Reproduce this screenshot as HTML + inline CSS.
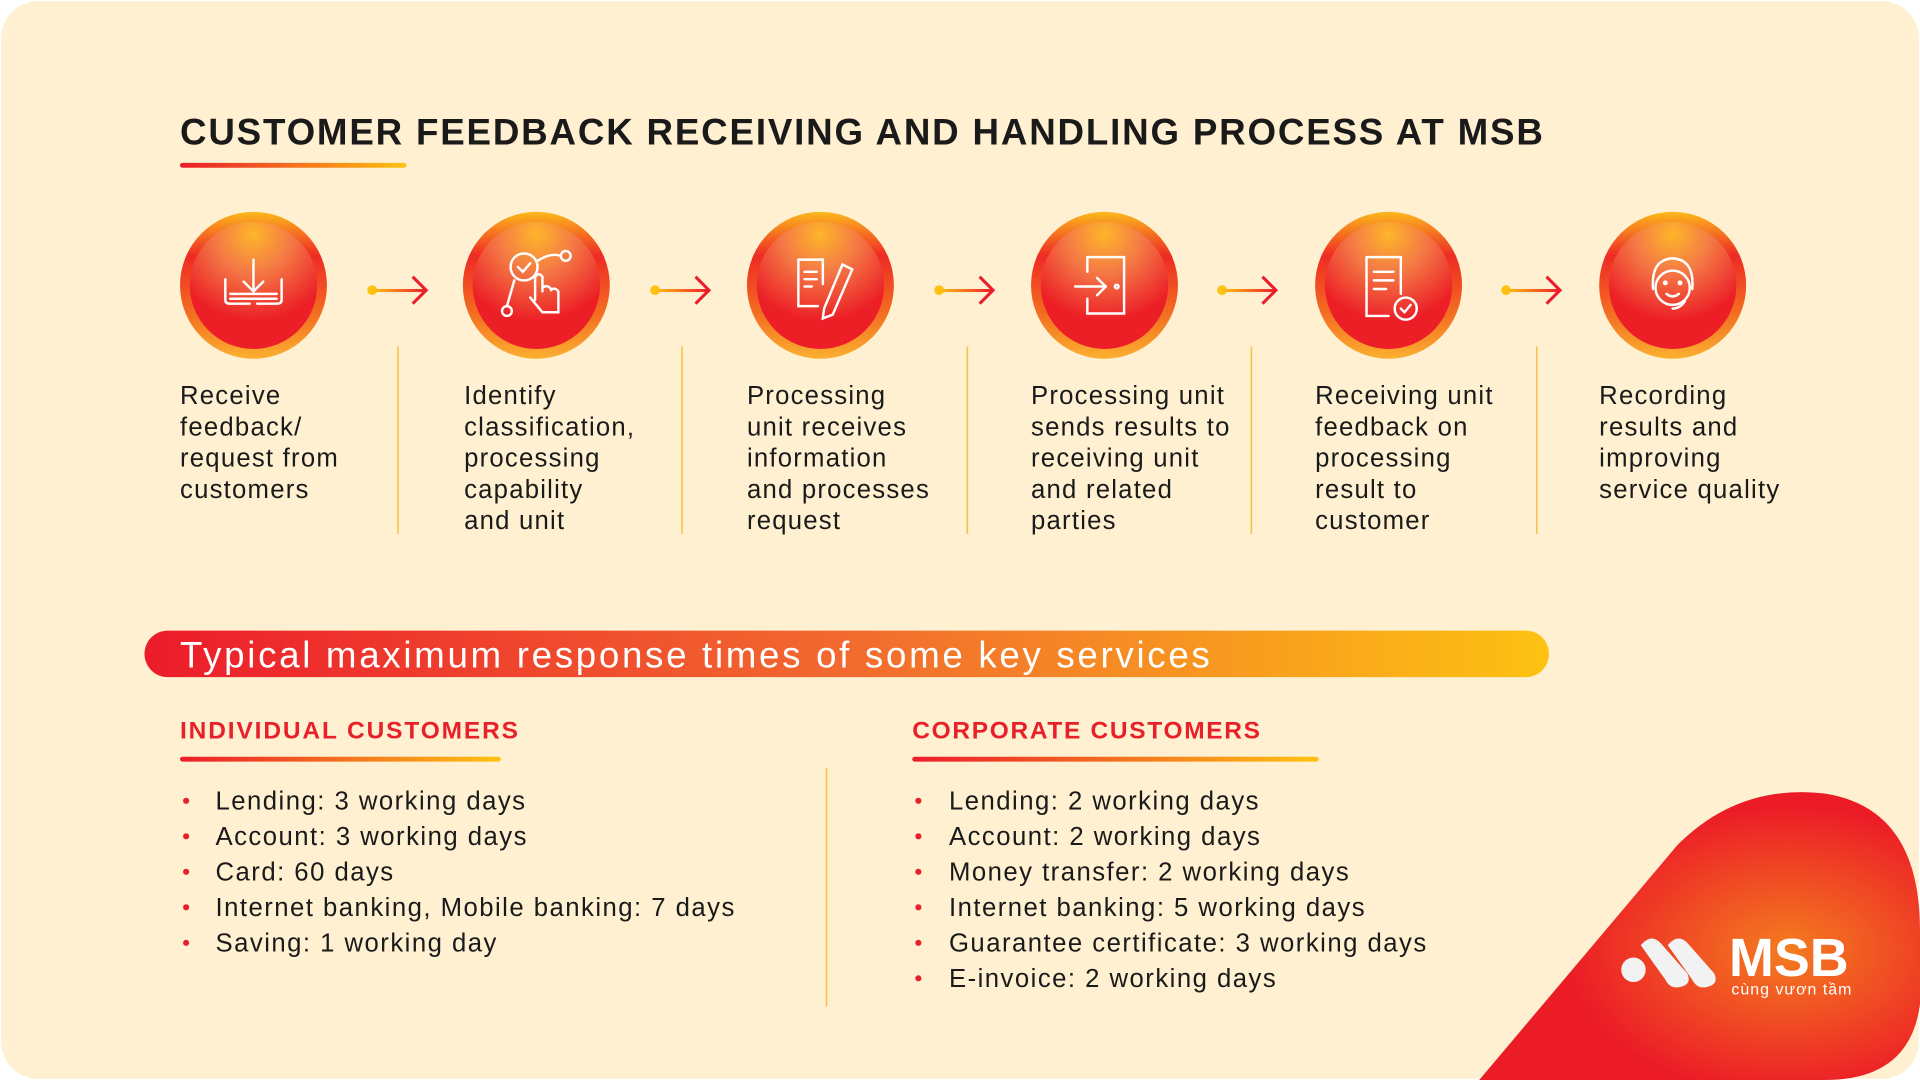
<!DOCTYPE html>
<html><head><meta charset="utf-8"><style>html,body{margin:0;padding:0;background:#fff;overflow:hidden}svg{display:block}text{font-family:"Liberation Sans",sans-serif}</style></head><body>
<svg width="1920" height="1080" viewBox="0 0 1568 882" xmlns="http://www.w3.org/2000/svg">
<defs>
<radialGradient id="cg" cx="50%" cy="10%" r="85%"><stop offset="0" stop-color="#fdb52a"/><stop offset="0.35" stop-color="#f47a45"/><stop offset="0.8" stop-color="#ec1f27"/></radialGradient>
<linearGradient id="rg" x1="0" y1="0" x2="0" y2="1"><stop offset="0" stop-color="#fcb81c"/><stop offset="0.3" stop-color="#ee2a24"/><stop offset="0.7" stop-color="#f36f21"/><stop offset="1" stop-color="#fbb030"/></linearGradient>
<linearGradient id="bg" x1="0" x2="1"><stop offset="0" stop-color="#ec1c2b"/><stop offset="0.5" stop-color="#f26a2f"/><stop offset="1" stop-color="#fdc212"/></linearGradient>
<linearGradient id="ul" x1="0" x2="1"><stop offset="0" stop-color="#ec1c2b"/><stop offset="1" stop-color="#fdc212"/></linearGradient>
<linearGradient id="ar" gradientUnits="userSpaceOnUse" x1="304" y1="0" x2="348" y2="0"><stop offset="0" stop-color="#fdc212"/><stop offset="1" stop-color="#ec1c2b"/></linearGradient>
<radialGradient id="lg" cx="70%" cy="55%" r="50%"><stop offset="0" stop-color="#f47c20"/><stop offset="1" stop-color="#ec1c27"/></radialGradient>
<g id="c"><circle r="60" fill="url(#rg)"/><circle r="52" fill="url(#cg)"/></g>
<g id="a"><circle cx="304" cy="237" r="4" fill="#fdc212"/><rect x="304" y="236" width="44" height="2.5" fill="url(#ar)"/><path d="M337 226 L348 237 L337 248" fill="none" stroke="#ec1c2b" stroke-width="2.5"/></g>
</defs>
<rect x="1" y="1" width="1566" height="880" rx="30" fill="#fef0d0"/>
<path d="M1208 882 L1370 690 Q1420 640 1490 648 Q1568 660 1568 760 L1568 820 Q1560 882 1490 882 Z" fill="url(#lg)"/>
<text x="147" y="118" font-size="30" font-weight="bold" fill="#1a1a1a" textLength="1113" lengthAdjust="spacing">CUSTOMER FEEDBACK RECEIVING AND HANDLING PROCESS AT MSB</text>
<rect x="147" y="133" width="185" height="4" rx="2" fill="url(#ul)"/>
<use href="#c" x="207" y="233"/><use href="#c" x="438" y="233"/><use href="#c" x="670" y="233"/><use href="#c" x="902" y="233"/><use href="#c" x="1134" y="233"/><use href="#c" x="1366" y="233"/>
<use href="#a"/><use href="#a" x="231"/><use href="#a" x="463"/><use href="#a" x="694"/><use href="#a" x="926"/>
<g stroke="#fff" stroke-width="2" fill="none" stroke-linecap="round">
<path d="M207 212 V238 M199 230 L207 238 L215 230 M184 228 V245 Q184 248 188 248 H204 M210 248 H226 Q230 248 230 245 V228 M188 240 H226 M188 244 H226"/>
<circle cx="428" cy="218" r="11"/><path d="M423 218 L427 222 L433 215 M439 213 Q450 206 458 209"/><circle cx="462" cy="209" r="4"/><path d="M420 229 L414 250"/><circle cx="414" cy="254" r="4"/><path d="M437 245 V226 Q440 222 443 226 V238 M443 235 Q447 232 450 236 M450 237 Q453 234 456 238 V255 H443 L433 243"/>
<path d="M652 212 H672 V232 M652 212 V250 H668 M657 222 H667 M657 228 H667 M657 234 H663 M688 216 L696 220 L680 257 L672 260 L673 252 Z"/>
<path d="M888 210 H918 V256 H888 V244 M888 222 V210 M878 234 H903 M896 227 L903 234 L896 241"/><circle cx="912" cy="234" r="1.5"/>
<path d="M1116 210 H1144 V240 M1116 210 V258 H1134 M1122 222 H1138 M1122 229 H1138 M1122 236 H1132"/><circle cx="1148" cy="252" r="9"/><path d="M1144 252 L1147 255 L1152 249"/>
<circle cx="1366" cy="235" r="14"/><path d="M1350 236 Q1348 212 1366 211 Q1384 212 1382 236 M1361 240 Q1366 244 1371 240 M1376 246 Q1372 252 1366 252"/><circle cx="1360" cy="231" r="1"/><circle cx="1372" cy="231" r="1"/>
</g>
<g stroke="#f6c04a" stroke-width="1.3"><line x1="325" y1="283" x2="325" y2="436"/><line x1="557" y1="283" x2="557" y2="436"/><line x1="790" y1="283" x2="790" y2="436"/><line x1="1022" y1="283" x2="1022" y2="436"/><line x1="1255" y1="283" x2="1255" y2="436"/><line x1="675" y1="627" x2="675" y2="822"/></g>
<g font-size="21" fill="#1a1a1a" letter-spacing="1">
<text x="147" y="330">Receive<tspan x="147" dy="25.5">feedback/</tspan><tspan x="147" dy="25.5">request from</tspan><tspan x="147" dy="25.5">customers</tspan></text>
<text x="379" y="330">Identify<tspan x="379" dy="25.5">classification,</tspan><tspan x="379" dy="25.5">processing</tspan><tspan x="379" dy="25.5">capability</tspan><tspan x="379" dy="25.5">and unit</tspan></text>
<text x="610" y="330">Processing<tspan x="610" dy="25.5">unit receives</tspan><tspan x="610" dy="25.5">information</tspan><tspan x="610" dy="25.5">and processes</tspan><tspan x="610" dy="25.5">request</tspan></text>
<text x="842" y="330">Processing unit<tspan x="842" dy="25.5">sends results to</tspan><tspan x="842" dy="25.5">receiving unit</tspan><tspan x="842" dy="25.5">and related</tspan><tspan x="842" dy="25.5">parties</tspan></text>
<text x="1074" y="330">Receiving unit<tspan x="1074" dy="25.5">feedback on</tspan><tspan x="1074" dy="25.5">processing</tspan><tspan x="1074" dy="25.5">result to</tspan><tspan x="1074" dy="25.5">customer</tspan></text>
<text x="1306" y="330">Recording<tspan x="1306" dy="25.5">results and</tspan><tspan x="1306" dy="25.5">improving</tspan><tspan x="1306" dy="25.5">service quality</tspan></text>
</g>
<rect x="118" y="515" width="1147" height="38" rx="19" fill="url(#bg)"/>
<text x="147" y="545" font-size="30" fill="#fff" textLength="841" lengthAdjust="spacing">Typical maximum response times of some key services</text>
<g font-size="20" font-weight="bold" fill="#e8202a"><text x="147" y="603" textLength="276" lengthAdjust="spacing">INDIVIDUAL CUSTOMERS</text><text x="745" y="603" textLength="284" lengthAdjust="spacing">CORPORATE CUSTOMERS</text></g>
<rect x="147" y="618" width="262" height="4" rx="2" fill="url(#ul)"/><rect x="745" y="618" width="332" height="4" rx="2" fill="url(#ul)"/>
<g font-size="21" fill="#1a1a1a" letter-spacing="1.2">
<text x="176" y="661">Lending: 3 working days</text><text x="176" y="690">Account: 3 working days</text><text x="176" y="719">Card: 60 days</text><text x="176" y="748">Internet banking, Mobile banking: 7 days</text><text x="176" y="777">Saving: 1 working day</text>
<text x="775" y="661">Lending: 2 working days</text><text x="775" y="690">Account: 2 working days</text><text x="775" y="719">Money transfer: 2 working days</text><text x="775" y="748">Internet banking: 5 working days</text><text x="775" y="777">Guarantee certificate: 3 working days</text><text x="775" y="806">E-invoice: 2 working days</text>
</g>
<g fill="#e8202a"><circle cx="152" cy="654" r="2.5"/><circle cx="152" cy="683" r="2.5"/><circle cx="152" cy="712" r="2.5"/><circle cx="152" cy="741" r="2.5"/><circle cx="152" cy="770" r="2.5"/>
<circle cx="750" cy="654" r="2.5"/><circle cx="750" cy="683" r="2.5"/><circle cx="750" cy="712" r="2.5"/><circle cx="750" cy="741" r="2.5"/><circle cx="750" cy="770" r="2.5"/><circle cx="750" cy="799" r="2.5"/></g>
<g fill="#f2f2f2"><circle cx="1334" cy="792" r="10"/><path d="M1340 772 Q1348 762 1356 770 L1378 795 Q1382 804 1372 806 Q1364 808 1360 800 Z"/><path d="M1362 772 Q1370 762 1378 770 L1400 795 Q1404 804 1394 806 Q1386 808 1382 800 Z"/></g>
<text x="1412" y="797" font-size="44" font-weight="bold" fill="#fff">MSB</text>
<text x="1414" y="812" font-size="13" fill="#fff" textLength="98" lengthAdjust="spacing">cùng vươn tầm</text>
</svg>
</body></html>
